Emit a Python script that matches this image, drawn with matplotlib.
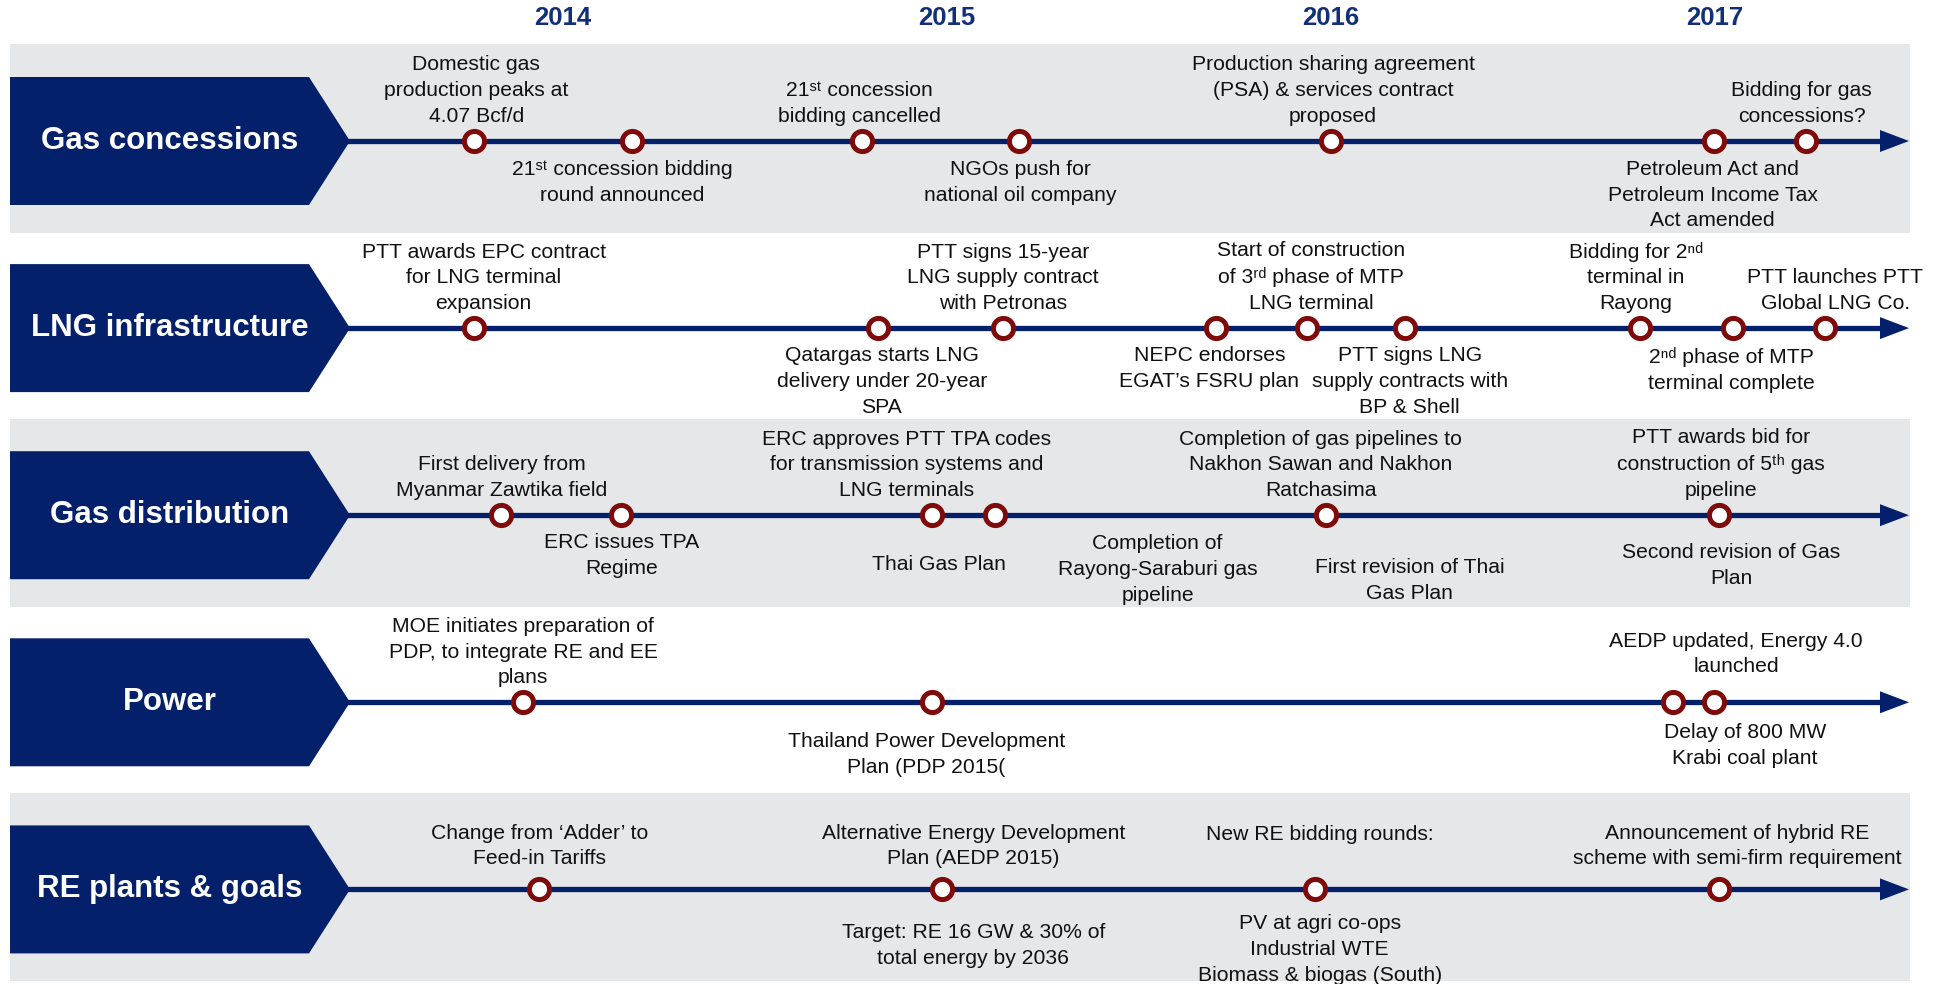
import matplotlib
matplotlib.use('Agg')
import matplotlib.pyplot as plt
from matplotlib.patches import Polygon, Rectangle

plt.rcParams['font.family'] = ['Liberation Sans', 'DejaVu Sans']

# ---------------- data ----------------
years = [2014, 2015, 2016, 2017]
rows = ['Gas concessions', 'LNG infrastructure', 'Gas distribution', 'Power', 'RE plants & goals']
shaded = [True, False, True, False, True]

gas_conc_dates = [2013.768, 2014.180, 2014.779, 2015.188, 2016.000, 2016.998, 2017.237]
lng_dates = [2013.768, 2014.821, 2015.147, 2015.700, 2015.939, 2016.193, 2016.805, 2017.047, 2017.288]
dist_dates = [2013.839, 2014.151, 2014.963, 2015.127, 2015.987, 2017.011]
power_dates = [2013.897, 2014.963, 2016.892, 2016.998]
re_dates = [2013.939, 2014.989, 2015.958, 2017.011]

ST, RD, ND, TH = "\u02e2\u1d57", "\u02b3\u1d48", "\u207f\u1d48", "\u1d57\u02b0"

gas_conc_labels = [
    "Domestic gas\nproduction peaks at\n4.07 Bcf/d",
    "21" + ST + " concession bidding\nround announced",
    "21" + ST + " concession\nbidding cancelled",
    "NGOs push for\nnational oil company",
    "Production sharing agreement\n(PSA) & services contract\nproposed",
    "Petroleum Act and\nPetroleum Income Tax\nAct amended",
    "Bidding for gas\nconcessions?",
]
gas_conc_label_x = [2013.775, 2014.154, 2014.772, 2015.191, 2016.006, 2016.995, 2017.227]
gas_conc_side = ['a', 'b', 'a', 'b', 'a', 'b', 'a']

lng_labels = [
    "PTT awards EPC contract\nfor LNG terminal\nexpansion",
    "Qatargas starts LNG\ndelivery under 20-year\nSPA",
    "PTT signs 15-year\nLNG supply contract\nwith Petronas",
    "NEPC endorses\nEGAT\u2019s FSRU plan",
    "Start of construction\nof 3" + RD + " phase of MTP\nLNG terminal",
    "PTT signs LNG\nsupply contracts with\nBP & Shell",
    "Bidding for 2" + ND + "\nterminal in\nRayong",
    "2" + ND + " phase of MTP\nterminal complete",
    "PTT launches PTT\nGlobal LNG Co.",
]
lng_label_x = [2013.794, 2014.831, 2015.147, 2015.684, 2015.949, 2016.206, 2016.795, 2017.044, 2017.314]
lng_side = ['a', 'b', 'a', 'b', 'a', 'b', 'a', 'b', 'a']

dist_labels = [
    "First delivery from\nMyanmar Zawtika field",
    "ERC issues TPA\nRegime",
    "ERC approves PTT TPA codes\nfor transmission systems and\nLNG terminals",
    "Thai Gas Plan",
    "Completion of gas pipelines to\nNakhon Sawan and Nakhon\nRatchasima",
    "Completion of\nRayong-Saraburi gas\npipeline",
    "First revision of Thai\nGas Plan",
    "PTT awards bid for\nconstruction of 5" + TH + " gas\npipeline",
    "Second revision of Gas\nPlan",
]
dist_label_x = [2013.842, 2014.154, 2014.896, 2014.979, 2015.974, 2015.549, 2016.206, 2017.017, 2017.044]
dist_side = ['a', 'b', 'a', 'b', 'a', 'b', 'b', 'a', 'b']

power_labels = [
    "MOE initiates preparation of\nPDP, to integrate RE and EE\nplans",
    "Thailand Power Development\nPlan (PDP 2015(",
    "AEDP updated, Energy 4.0\nlaunched",
    "Delay of 800 MW\nKrabi coal plant",
]
power_label_x = [2013.897, 2014.947, 2017.056, 2017.079]
power_side = ['a', 'b', 'a', 'b']

re_labels = [
    "Change from \u2018Adder\u2019 to\nFeed-in Tariffs",
    "Alternative Energy Development\nPlan (AEDP 2015)",
    "Target: RE 16 GW & 30% of\ntotal energy by 2036",
    "New RE bidding rounds:",
    "PV at agri co-ops\nIndustrial WTE\nBiomass & biogas (South)",
    "Announcement of hybrid RE\nscheme with semi-firm requirement",
]
re_label_x = [2013.939, 2015.069, 2015.069, 2015.971, 2015.971, 2017.059]
re_side = ['a', 'a', 'b', 'a', 'b', 'a']

# ---------------- layout ----------------
W, H = 1939, 984
X0PX, PPY = 562.7, 384.0          # pixel of 2014, pixels per year
Y0PX, PPR = 141.0, 187.1          # pixel of first row, pixels per row

def xpx(p):
    return 2014 + (p - X0PX) / PPY

def dy(p):
    return p / PPR

navy = '#04206B'
year_col = '#12307A'
red = '#7E0A0A'
band_col = '#E6E7E9'

# label gap (pixels from the timeline to the nearest text edge)
gaps = {
    0: [15, 19, 15, 19, 15, 19, 15],
    1: [15, 18, 15, 18, 15, 18, 15, 19, 15],
    2: [15, 18, 15, 40, 15, 19, 43, 15, 28],
    3: [15, 30, 26, 21],
    4: [21, 21, 34, 45, 25, 21],
}

fig = plt.figure(figsize=(W / 100, H / 100), dpi=100)
ax = fig.add_axes([0, 0, 1, 1])
ax.set_xlim(xpx(0), xpx(W))
ax.set_ylim((H - Y0PX) / PPR, -Y0PX / PPR)
ax.axis('off')

all_dates = [gas_conc_dates, lng_dates, dist_dates, power_dates, re_dates]
all_labels = [gas_conc_labels, lng_labels, dist_labels, power_labels, re_labels]
all_lx = [gas_conc_label_x, lng_label_x, dist_label_x, power_label_x, re_label_x]
all_sides = [gas_conc_side, lng_side, dist_side, power_side, re_side]

for i, name in enumerate(rows):
    if shaded[i]:
        ax.add_patch(Rectangle((xpx(10), i - dy(96.5)), xpx(1910) - xpx(10), dy(188.5),
                               facecolor=band_col, edgecolor='none', zorder=0))
    chev = [(xpx(10), i - dy(64)), (xpx(309), i - dy(64)), (xpx(350), i),
            (xpx(309), i + dy(64)), (xpx(10), i + dy(64))]
    ax.add_patch(Polygon(chev, closed=True, facecolor=navy, edgecolor='none', zorder=2))
    ax.text(xpx(170), i, name, color='white', fontsize=22.5, fontweight='bold',
            ha='center', va='center', zorder=3)
    ax.plot([xpx(345), xpx(1884)], [i, i], color=navy, lw=3.8, solid_capstyle='butt', zorder=2)
    head = [(xpx(1880), i - dy(11)), (xpx(1909), i), (xpx(1880), i + dy(11))]
    ax.add_patch(Polygon(head, closed=True, facecolor=navy, edgecolor='none', zorder=2))
    d = all_dates[i]
    ax.plot(d, [i] * len(d), 'o', ms=14.5, mfc='white', mec=red, mew=3.6, zorder=5)
    for txt, lx, sd, g in zip(all_labels[i], all_lx[i], all_sides[i], gaps[i]):
        if sd == 'a':
            ax.annotate(txt, xy=(lx, i), xytext=(0, g), textcoords='offset pixels',
                        ha='center', va='bottom', fontsize=15.2, linespacing=1.45,
                        color='#111111', zorder=4)
        else:
            ax.annotate(txt, xy=(lx, i), xytext=(0, -g), textcoords='offset pixels',
                        ha='center', va='top', fontsize=15.2, linespacing=1.45,
                        color='#111111', zorder=4)

for yr in years:
    ax.text(yr, (18.5 - Y0PX) / PPR, str(yr), color=year_col, fontsize=18.5,
            fontweight='bold', ha='center', va='center')

fig.savefig('out.png', dpi=100)
